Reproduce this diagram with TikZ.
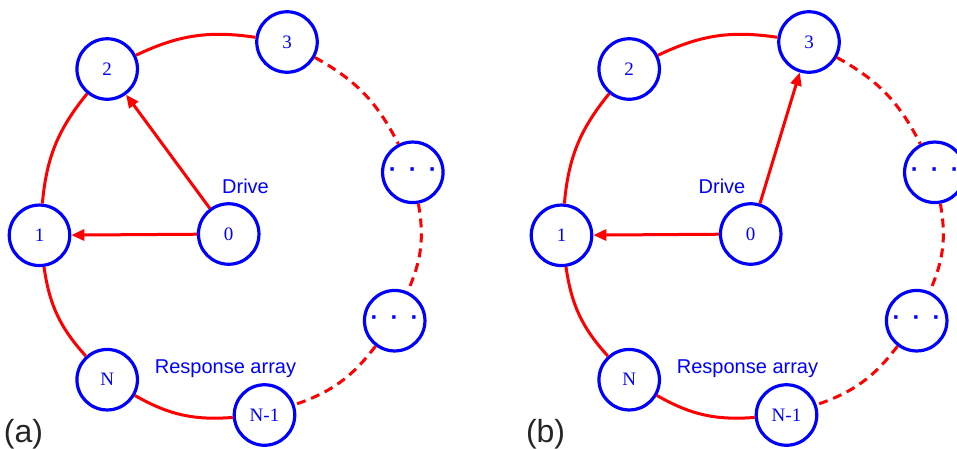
\documentclass[tikz,border=0pt]{standalone}
\usepackage{fontspec}
\setmainfont{Liberation Serif}
\setsansfont{Liberation Sans}
\usetikzlibrary{arrows.meta}
\definecolor{pblue}{RGB}{0,0,255}
\definecolor{pred}{RGB}{255,0,0}
\tikzset{
  unit/.style={circle, draw=pblue, line width=3.2pt, fill=white, minimum size=60.5pt, inner sep=0pt, text=pblue, font=\fontsize{19}{22}\selectfont},
  dotunit/.style={unit, font=\sffamily\bfseries\fontsize{24}{28}\selectfont},
  ring/.style={draw=pred, line width=3pt, bend left=17},
  ringdash/.style={ring, dash pattern=on 9pt off 6pt},
  drivearrow/.style={draw=pred, line width=3pt, -{Triangle[length=13pt,width=11pt]}},
  caption/.style={text=pblue, font=\sffamily\fontsize{20}{24}\selectfont, anchor=base, inner sep=0pt},
  panellabel/.style={text=black!85, font=\sffamily\fontsize{32}{36}\selectfont, anchor=base west, inner sep=0pt},
}
\newcommand\dotsrow{\raisebox{-2pt}{·\hspace{12pt}·\hspace{12pt}·}}
\newcommand\ringpanel[5]{%
\begin{scope}[xshift=#1pt]
  \node[unit] (#2n0) at (228.7,-234) {0};
  \node[unit] (#2n1) at (39.5,-235.3) {1};
  \node[unit] (#2n2) at (107.2,-69) {2};
  \node[unit] (#2n3) at (287,-42) {3};
  \node[dotunit] (#2d1) at (412.8,-172.3) {\dotsrow};
  \node[dotunit] (#2d2) at (394.7,-320.7) {\dotsrow};
  \node[unit] (#2nm) at (264.5,-415) {N-1};
  \node[unit] (#2nN) at (107.2,-379.7) {N};
  \draw[ring] (#2n1) to (#2n2);
  \draw[ring] (#2n2) to (#2n3);
  \draw[ringdash] (#2n3) to (#2d1);
  \draw[ringdash] (#2d1) to (#2d2);
  \draw[ringdash] (#2d2) to (#2nm);
  \draw[ring] (#2nm) to (#2nN);
  \draw[ring] (#2nN) to (#2n1);
  \draw[drivearrow] (#2n0) -- (#2n1);
  \draw[drivearrow] (#2n0) -- (#2#3);
  \node[caption] (#2drv) at (#5,-193.3) {Drive};
  \node[caption] (#2resp) at (225.5,-373.3) {Response array};
  \node[panellabel] (#2lbl) at (3.8,-442) {#4};
\end{scope}}
\begin{document}
\begin{tikzpicture}[x=1pt,y=1pt]
  \useasboundingbox (0,-448) rectangle (957,0);
  \clip (0,-448) rectangle (957,0);
  \ringpanel{0}{a}{n2}{(a)}{245.5}
  \ringpanel{522}{b}{n3}{(b)}{200}
\end{tikzpicture}
\end{document}
